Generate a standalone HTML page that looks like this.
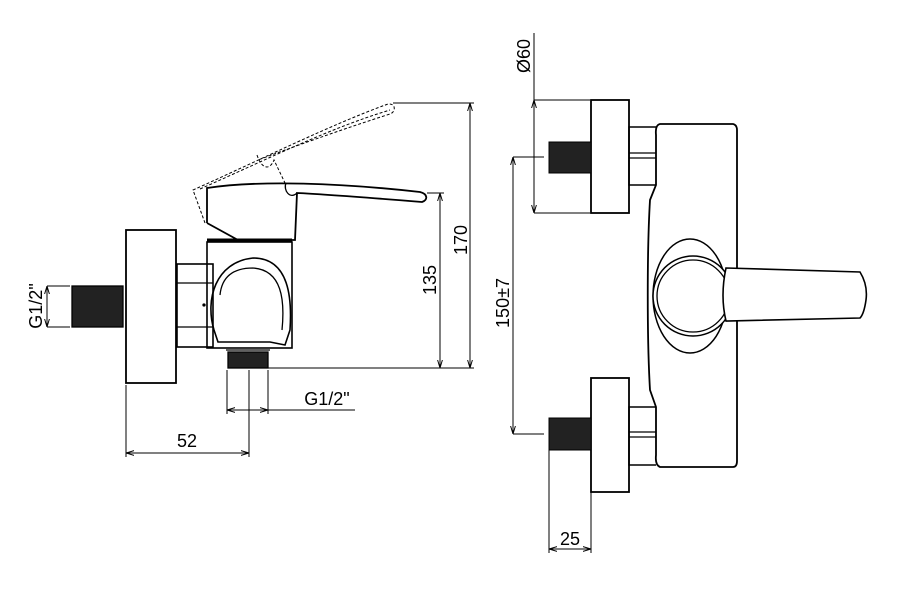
<!DOCTYPE html>
<html><head><style>html,body{margin:0;padding:0;background:#fff;}svg{display:block}</style></head>
<body>
<svg width="900" height="600" viewBox="0 0 900 600" xmlns="http://www.w3.org/2000/svg" font-family="Liberation Sans, sans-serif" font-size="18" fill="none" stroke="#000" stroke-width="1.3">
<defs>
<marker id="a" viewBox="0 0 10 10" refX="10" refY="5" markerWidth="8" markerHeight="8" orient="auto-start-reverse"><path d="M0,2 L10,5 L0,8" fill="none" stroke="#000" stroke-width="1.2"/></marker>
</defs>
<!-- LEFT VIEW -->
<rect x="126" y="230" width="50" height="153" stroke-width="1.8"/>
<rect x="72" y="286" width="51" height="41" fill="#222" stroke="#000"/>
<rect x="177" y="264" width="36" height="83" stroke-width="1.6"/>
<line x1="177" y1="283" x2="213" y2="283"/>
<line x1="177" y1="327" x2="213" y2="327"/>
<circle cx="204" cy="305" r="1" fill="#000"/>
<rect x="207" y="242" width="85" height="106" stroke-width="1.6"/>
<path d="M214,330 C205,300 215,262 253,258 C290,258 292,300 290,330 L285,345 L270,342 L218,342 Z" stroke-width="1.6"/>
<path d="M220,295 C222,275 235,268 253,268 C282,270 285,300 282,330" />
<line x1="207" y1="240" x2="292" y2="240" stroke-width="3"/>
<path d="M207,223 L207,188 C260,180 340,183 420,192 C428,194 428,200 422,202 C360,197 320,194 297,193 L295,240 L238,240 L207,223" stroke-width="1.8"/>
<path d="M286,183 C283,190 290,200 297,193"/>
<rect x="228" y="352" width="40" height="16" fill="#222"/>
<line x1="226" y1="350" x2="270" y2="350"/>
<!-- dashed lever -->
<g stroke-dasharray="3,2" stroke-width="1">
<path d="M205,223 L193,190 C260,160 330,125 388,104 C396,103 396,112 390,114 C340,130 290,148 258,160"/>
<path d="M200,189 C270,158 330,128 390,110"/>
<path d="M257,155 C262,170 270,170 274,160 L285,183"/>
</g>
<!-- dims left -->
<line x1="393" y1="103" x2="474" y2="103" stroke-width="1"/>
<line x1="470" y1="103" x2="470" y2="368" stroke-width="1" marker-start="url(#a)" marker-end="url(#a)"/>
<line x1="427" y1="193" x2="444" y2="193" stroke-width="1"/>
<line x1="440" y1="193" x2="440" y2="368" stroke-width="1" marker-start="url(#a)" marker-end="url(#a)"/>
<line x1="268" y1="368" x2="474" y2="368" stroke-width="1"/>
<text x="0" y="0" transform="translate(467,240) rotate(-90)" text-anchor="middle" fill="#000" stroke="none">170</text>
<text x="0" y="0" transform="translate(436,280) rotate(-90)" text-anchor="middle" fill="#000" stroke="none">135</text>
<line x1="47" y1="286" x2="70" y2="286" stroke-width="1"/>
<line x1="47" y1="327" x2="70" y2="327" stroke-width="1"/>
<line x1="47" y1="286" x2="47" y2="327" stroke-width="1" marker-start="url(#a)" marker-end="url(#a)"/>
<text transform="translate(42,306) rotate(-90)" text-anchor="middle" fill="#000" stroke="none">G1/2"</text>
<line x1="227" y1="370" x2="227" y2="414" stroke-width="1"/>
<line x1="268" y1="370" x2="268" y2="414" stroke-width="1"/>
<line x1="227" y1="410" x2="268" y2="410" stroke-width="1" marker-start="url(#a)" marker-end="url(#a)"/>
<line x1="268" y1="410" x2="355" y2="410" stroke-width="1"/>
<text x="327" y="405" text-anchor="middle" fill="#000" stroke="none">G1/2"</text>
<line x1="126" y1="385" x2="126" y2="457" stroke-width="1"/>
<line x1="249" y1="370" x2="249" y2="457" stroke-width="1"/>
<line x1="126" y1="453" x2="249" y2="453" stroke-width="1" marker-start="url(#a)" marker-end="url(#a)"/>
<text x="187" y="447" text-anchor="middle" fill="#000" stroke="none">52</text>
<!-- RIGHT VIEW -->
<rect x="591" y="100" width="38" height="113" stroke-width="1.8"/>
<rect x="591" y="378" width="38" height="114" stroke-width="1.8"/>
<rect x="549" y="142" width="42" height="31" fill="#222" stroke-width="1"/>
<rect x="549" y="418" width="42" height="32" fill="#222" stroke-width="1"/>
<path d="M656,127 L629,127 L629,185 L656,185" stroke-width="1.5"/>
<line x1="629" y1="153" x2="656" y2="153"/><line x1="629" y1="158" x2="656" y2="158"/>
<path d="M656,407 L629,407 L629,465 L656,465" stroke-width="1.5"/>
<line x1="629" y1="432" x2="656" y2="432"/><line x1="629" y1="437" x2="656" y2="437"/>
<path d="M660,124 L733,124 Q737,125 737,130 L737,461 Q737,467 733,467 L660,467 Q655,465 656,455 L656,407 L650,390 C647,340 647,250 650,200 L656,185 L656,135 Q655,125 660,124 Z" stroke-width="1.8"/>
<ellipse cx="690" cy="296" rx="37" ry="57" stroke-width="1.5"/>
<circle cx="693" cy="296" r="40" fill="#fff" stroke-width="1.5"/>
<circle cx="693" cy="296" r="36" stroke-width="1.3"/>
<path d="M726,268 L860,272 Q868,285 866,300 Q864,314 860,318 L726,321 Q720,296 726,268 Z" fill="#fff" stroke-width="1.6"/>
<!-- right dims -->
<line x1="534" y1="33" x2="534" y2="100" stroke-width="1"/>
<line x1="534" y1="100" x2="534" y2="213" stroke-width="1" marker-start="url(#a)" marker-end="url(#a)"/>
<line x1="534" y1="100" x2="590" y2="100" stroke-width="1"/>
<line x1="534" y1="213" x2="590" y2="213" stroke-width="1"/>
<text transform="translate(530,56) rotate(-90)" text-anchor="middle" fill="#000" stroke="none">Ø60</text>
<line x1="513" y1="157" x2="544" y2="157" stroke-width="1"/>
<line x1="513" y1="434" x2="544" y2="434" stroke-width="1"/>
<line x1="513" y1="157" x2="513" y2="434" stroke-width="1" marker-start="url(#a)" marker-end="url(#a)"/>
<text transform="translate(509,303) rotate(-90)" text-anchor="middle" fill="#000" stroke="none">150±7</text>
<line x1="549" y1="450" x2="549" y2="553" stroke-width="1"/>
<line x1="591" y1="492" x2="591" y2="553" stroke-width="1"/>
<line x1="549" y1="549" x2="591" y2="549" stroke-width="1" marker-start="url(#a)" marker-end="url(#a)"/>
<text x="570" y="545" text-anchor="middle" fill="#000" stroke="none">25</text>
</svg>
</body></html>
